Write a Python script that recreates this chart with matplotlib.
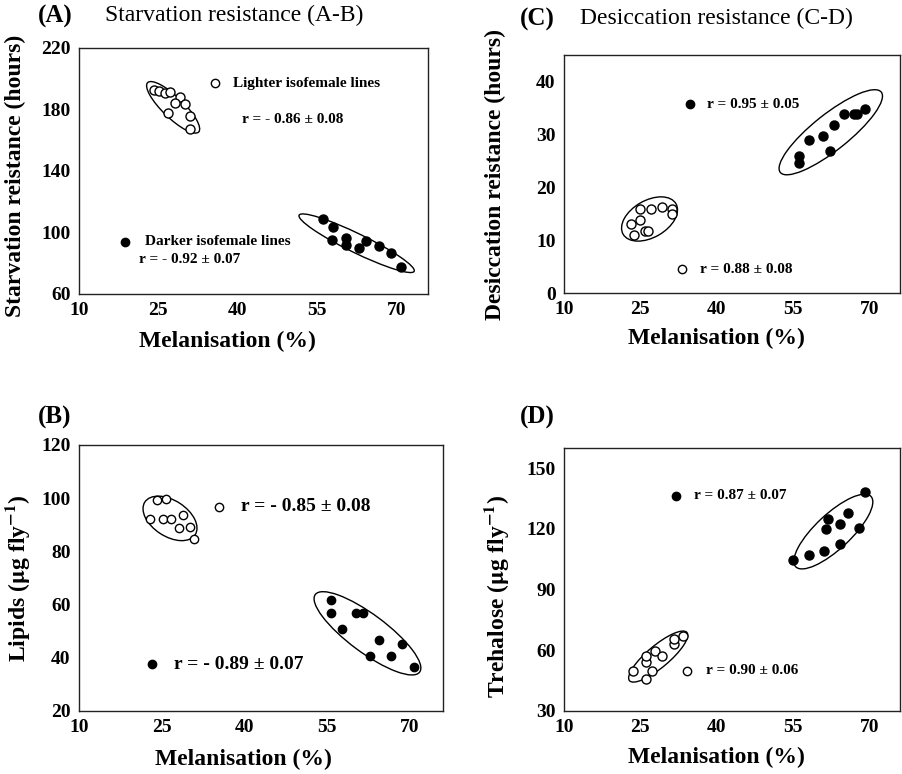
import matplotlib
matplotlib.use('Agg')
import matplotlib.pyplot as plt
import matplotlib.transforms as transforms
from matplotlib.patches import Ellipse

plt.rcParams['font.family'] = ['Liberation Serif', 'DejaVu Serif']
plt.rcParams['mathtext.fontset'] = 'stix'

# (A) starvation resistance vs melanisation
starv_light_x = [24.2, 25.2, 26.2, 27.2, 29.1, 28.1, 30.0, 26.9, 30.9, 30.9]
starv_light_y = [192.7, 192.2, 190.5, 191.4, 188.3, 184.0, 183.6, 177.9, 175.8, 167.5]
starv_dark_x = [56.1, 58.0, 57.9, 60.5, 60.4, 63.0, 64.3, 66.7, 69.0, 70.9]
starv_dark_y = [108.6, 103.8, 95.1, 96.2, 91.9, 89.7, 94.7, 91.2, 86.9, 77.8]

# (B) lipids
lip_light_x = [24.1, 25.8, 22.9, 25.2, 26.7, 28.1, 28.9, 30.1, 30.8]
lip_light_y = [99.3, 99.6, 92.1, 92.1, 92.1, 88.7, 93.7, 89.3, 84.5]
lip_dark_x = [55.7, 55.7, 60.3, 61.5, 57.7, 64.4, 68.6, 62.7, 66.5, 70.7]
lip_dark_y = [61.7, 57.0, 57.0, 57.0, 50.7, 46.7, 45.2, 40.7, 40.7, 36.7]

# (C) desiccation resistance
des_light_x = [25.0, 27.0, 29.3, 31.2, 31.2, 23.2, 25.0, 23.8, 26.0, 26.5]
des_light_y = [15.8, 15.8, 16.3, 15.8, 15.0, 13.0, 13.8, 10.9, 11.7, 11.7]
des_dark_x = [56.2, 56.2, 58.2, 60.8, 62.3, 63.1, 65.0, 66.9, 67.5, 69.2]
des_dark_y = [26.0, 24.6, 28.9, 29.7, 26.8, 31.8, 33.9, 33.9, 33.9, 34.8]

# (D) trehalose
tre_light_x = [23.5, 26.2, 27.3, 26.2, 26.2, 27.8, 29.3, 31.6, 31.6, 33.4]
tre_light_y = [49.9, 45.7, 49.9, 54.1, 57.4, 59.8, 57.4, 63.0, 65.5, 67.3]
tre_dark_x = [54.9, 58.1, 61.1, 61.5, 61.9, 64.3, 64.3, 65.8, 68.0, 69.2]
tre_dark_y = [104.7, 107.0, 109.3, 119.9, 124.8, 122.3, 112.6, 128.1, 120.3, 138.0]

fig = plt.figure(figsize=(9.03, 7.74), dpi=100)

def ring(ax, xc, yc, w, h, ang):
    # ellipse drawn in pixels around a data-space centre
    tr = fig.dpi_scale_trans + transforms.ScaledTranslation(xc, yc, ax.transData)
    ax.add_patch(Ellipse((0, 0), w / 100, h / 100, angle=ang, transform=tr,
                         fill=False, lw=1.0, ec='black'))

def setup(ax, ylim, yticks, ylabel, ylab_pos, xlab_pos):
    ax.set_xlim(10, 76)
    ax.set_ylim(*ylim)
    ax.set_xticks([10, 25, 40, 55, 70])
    ax.set_yticks(yticks)
    ax.tick_params(length=0, pad=6, labelsize=14)
    for lab in ax.get_xticklabels() + ax.get_yticklabels():
        lab.set_fontweight('bold')
    for s in ax.spines.values():
        s.set_linewidth(1.0)
        s.set_color('#222222')
    ax.text(ylab_pos[0], ylab_pos[1], ylabel, transform=ax.transAxes, rotation=90,
            ha='center', va='center', fontsize=17, fontweight='bold')
    ax.text(xlab_pos[0], xlab_pos[1], 'Melanisation (%)', transform=ax.transAxes,
            ha='center', va='center', fontsize=17, fontweight='bold')

def pts(ax, lx, ly, dx, dy, ms=6.5):
    ax.plot(lx, ly, 'o', ms=ms, mfc='white', mec='black', mew=1.0, ls='none')
    ax.plot(dx, dy, 'o', ms=ms, mfc='black', mec='black', ls='none')

def key(ax, x, y, filled):
    ax.plot([x], [y], 'o', ms=6, mfc='black' if filled else 'white', mec='black', mew=1.0)

# ---- A
axA = fig.add_axes([0.0875, 0.6202, 0.3865, 0.3178])
setup(axA, (60, 220), [60, 100, 140, 180, 220], 'Starvation reistance (hours)',
      (-0.183, 0.48), (0.424, -0.195))
pts(axA, starv_light_x, starv_light_y, starv_dark_x, starv_dark_y)
ring(axA, 27.8, 181.4, 71, 21, -44)
ring(axA, 62.5, 93.0, 128, 19, -26)
key(axA, 35.7, 197, False)
axA.text(39.1, 197, 'Lighter isofemale lines', fontsize=11, fontweight='bold', va='center')
axA.text(40.9, 173.2, 'r = - 0.86 ± 0.08', fontsize=11, fontweight='bold', va='center')
key(axA, 18.7, 94, True)
axA.text(22.5, 94, 'Darker isofemale lines', fontsize=11, fontweight='bold', va='center')
axA.text(21.4, 82.1, 'r = - 0.92 ± 0.07', fontsize=11, fontweight='bold', va='center')

# ---- B
axB = fig.add_axes([0.0875, 0.0814, 0.4031, 0.3437])
setup(axB, (20, 120), [20, 40, 60, 80, 100, 120], r'Lipids ($\mathbf{\mu}$g fly$^{\mathbf{-1}}$)',
      (-0.168, 0.5), (0.453, -0.184))
pts(axB, lip_light_x, lip_light_y, lip_dark_x, lip_dark_y, ms=6)
ring(axB, 26.5, 92.4, 60, 36, -33)
ring(axB, 62.3, 49.2, 130, 38, -36.6)
key(axB, 35.4, 96.8, False)
axB.text(39.4, 96.8, 'r = - 0.85 ± 0.08', fontsize=14, fontweight='bold', va='center')
key(axB, 23.3, 37.6, True)
axB.text(27.3, 37.6, 'r = - 0.89 ± 0.07', fontsize=14, fontweight='bold', va='center')

# ---- C
axC = fig.add_axes([0.6246, 0.6214, 0.3721, 0.3075])
setup(axC, (0, 45), [0, 10, 20, 30, 40], 'Desiccation reistance (hours)',
      (-0.205, 0.5), (0.455, -0.189))
pts(axC, des_light_x, des_light_y, des_dark_x, des_dark_y)
ring(axC, 26.8, 14.0, 61, 37, 30)
ring(axC, 62.4, 30.4, 129, 36, 38.5)
key(axC, 34.7, 35.7, True)
axC.text(38.0, 35.7, 'r = 0.95 ± 0.05', fontsize=11, fontweight='bold', va='center')
key(axC, 33.1, 4.5, False)
axC.text(36.7, 4.5, 'r = 0.88 ± 0.08', fontsize=11, fontweight='bold', va='center')

# ---- D
axD = fig.add_axes([0.6246, 0.0814, 0.3721, 0.3398])
setup(axD, (30, 160), [30, 60, 90, 120, 150], r'Trehalose ($\mathbf{\mu}$g fly$^{\mathbf{-1}}$)',
      (-0.2, 0.437), (0.455, -0.175))
pts(axD, tre_light_x, tre_light_y, tre_dark_x, tre_dark_y)
ring(axD, 28.5, 56.9, 75, 22, 40)
ring(axD, 62.9, 118.7, 103, 35, 43)
key(axD, 31.9, 136.5, True)
axD.text(35.5, 136.5, 'r = 0.87 ± 0.07', fontsize=11, fontweight='bold', va='center')
key(axD, 34.2, 49.9, False)
axD.text(37.8, 49.9, 'r = 0.90 ± 0.06', fontsize=11, fontweight='bold', va='center')

# panel letters and titles
fig.text(55 / 903, 1 - 16 / 774, '(A)', fontsize=18, fontweight='bold', ha='center', va='center')
fig.text(105 / 903, 1 - 15 / 774, 'Starvation resistance (A-B)', fontsize=17, va='center')
fig.text(537 / 903, 1 - 19 / 774, '(C)', fontsize=18, fontweight='bold', ha='center', va='center')
fig.text(580 / 903, 1 - 18 / 774, 'Desiccation resistance (C-D)', fontsize=17, va='center')
fig.text(55 / 903, 1 - 417 / 774, '(B)', fontsize=18, fontweight='bold', ha='center', va='center')
fig.text(537 / 903, 1 - 417 / 774, '(D)', fontsize=18, fontweight='bold', ha='center', va='center')

fig.savefig('out.png', dpi=100)
